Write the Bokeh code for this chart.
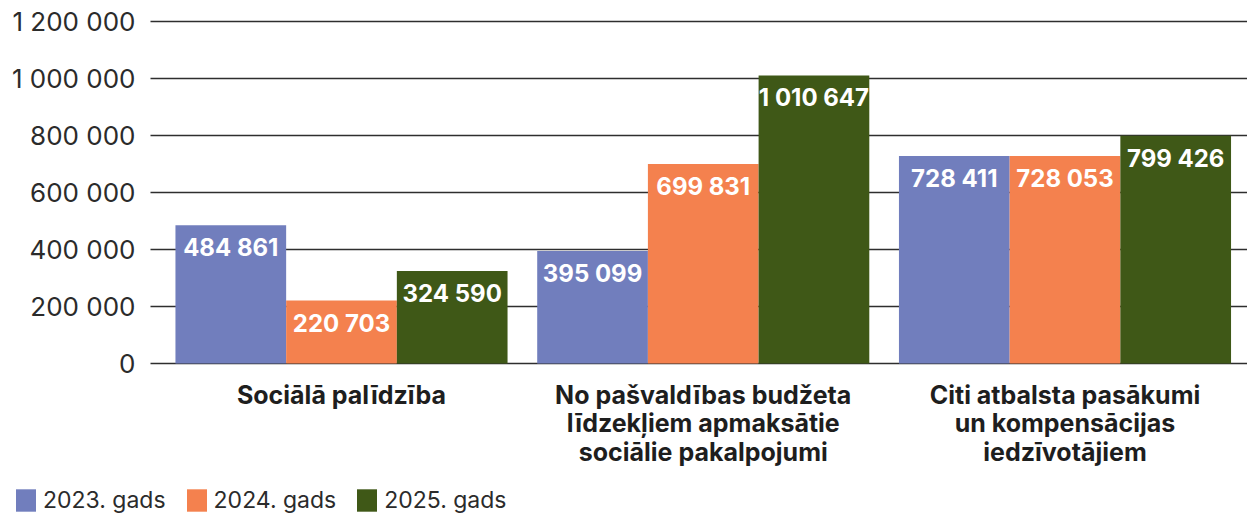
from bokeh.plotting import figure
from bokeh.models import Range1d, ColumnDataSource, Legend, LegendItem
from bokeh.core.properties import value
from bokeh.embed import file_html
from bokeh.resources import INLINE

# ---- data ----
categories = [
    "Sociālā palīdzība",
    "No pašvaldības budžeta\nlīdzekļiem apmaksātie\nsociālie pakalpojumi",
    "Citi atbalsta pasākumi\nun kompensācijas\niedzīvotājiem",
]
years = ["2023. gads", "2024. gads", "2025. gads"]
v2023 = [484861, 395099, 728411]
v2024 = [220703, 699831, 728053]
v2025 = [324590, 1010647, 799426]
y_ticks = [0, 200000, 400000, 600000, 800000, 1000000, 1200000]

colors = ["#717ebd", "#f4814e", "#3f5817"]
FONT = value("Inter")


def fmt(v):
    return f"{v:,}".replace(",", " ")


# layout constants (pixel geometry of the reference)
W, H = 1247, 516
PX_PER_CAT = 361.75          # px per category unit
FIRST_CENTER_PX = 341.0       # px of first group centre
Y0_PX = 363.0                 # px of value 0
PX_PER_UNIT_Y = 342.0 / 1200000.0
GRID_LEFT_PX = 150.0
LABEL_RIGHT_PX = 135.0

x_start = -FIRST_CENTER_PX / PX_PER_CAT
x_end = x_start + W / PX_PER_CAT
y_end = Y0_PX / PX_PER_UNIT_Y
y_start = -(H - Y0_PX) / PX_PER_UNIT_Y

p = figure(
    width=W, height=H,
    output_backend="svg", toolbar_location=None,
    x_range=Range1d(x_start, x_end),
    y_range=Range1d(y_start, y_end),
    x_axis_location=None, y_axis_location=None,
    min_border_left=0, min_border_right=0,
    min_border_top=0, min_border_bottom=0,
    outline_line_color=None,
)
p.xgrid.visible = False
p.ygrid.visible = False

grid_x0 = x_start + GRID_LEFT_PX / PX_PER_CAT
label_x = x_start + LABEL_RIGHT_PX / PX_PER_CAT

# horizontal grid lines
p.segment(x0=[grid_x0] * len(y_ticks), y0=y_ticks,
          x1=[x_end] * len(y_ticks), y1=y_ticks,
          line_color="#2e2e2e", line_width=1.4)

# y tick labels
p.text(x=[label_x] * len(y_ticks), y=y_ticks, text=[fmt(t) for t in y_ticks],
       text_align="right", text_baseline="middle",
       text_color="#2b2b2b", text_font=FONT, text_font_size="26px")

bw = 0.306
offsets = [-bw, 0.0, bw]
series = [v2023, v2024, v2025]
idx = list(range(len(categories)))

bars = []
for vals, off, col in zip(series, offsets, colors):
    xs = [i + off for i in idx]
    src = ColumnDataSource(dict(x=xs, top=vals, lab=[fmt(v) for v in vals]))
    bars.append(p.vbar(x="x", top="top", bottom=0, width=bw, source=src,
                       fill_color=col, line_color=None))
    p.text(x="x", y="top", text="lab", source=src,
           text_align="center", text_baseline="top", y_offset=8,
           text_color="white", text_font=FONT, text_font_style="bold",
           text_font_size="24px")

p.text(x=idx, y=[0] * len(idx), text=categories,
       text_align="center", text_baseline="top", y_offset=16,
       text_color="#1e1e1e", text_font=FONT, text_font_style="bold",
       text_font_size="25px", text_line_height=0.96)

items = [LegendItem(label=yr, renderers=[r]) for yr, r in zip(years, bars)]
lg = Legend(items=items, orientation="horizontal", location=(13, 2),
            padding=0, margin=0, spacing=18, label_standoff=5,
            glyph_width=25, glyph_height=28, label_height=28,
            border_line_color=None, background_fill_alpha=0,
            label_text_font="Inter", label_text_font_size="23px",
            label_text_color="#2b2b2b")
p.add_layout(lg, "center")

open("out.html", "w").write(file_html(p, INLINE))
